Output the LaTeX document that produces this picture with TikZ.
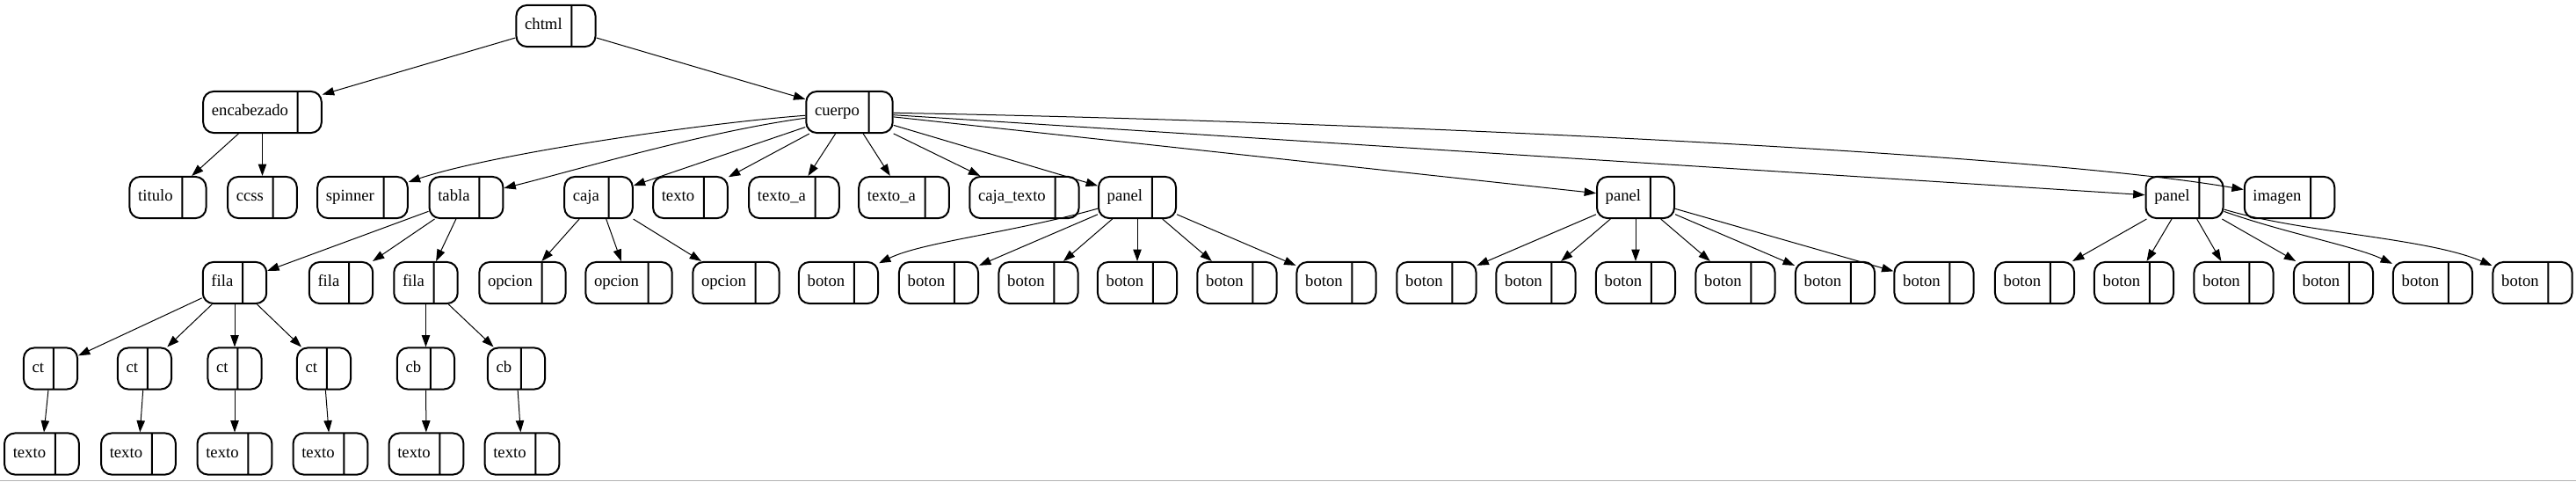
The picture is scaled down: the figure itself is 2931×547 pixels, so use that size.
\documentclass[tikz,border=0pt]{standalone}
\usepackage{fontspec}
\setmainfont{Liberation Serif}
\usepackage{tikz}
\usetikzlibrary{shapes.multipart,arrows.meta}
\newcommand\hueco{\nodepart{two}\hspace*{5pt}}

\begin{document}
\begin{tikzpicture}[x=0.75pt,y=-0.75pt]
            \useasboundingbox (0,0) rectangle (2931,547);
            \tikzset{Campo/.style={rectangle split,rectangle split horizontal,rectangle split parts=2,
                draw,line width=1.5pt,rounded corners=9pt,inner xsep=7.3pt,inner ysep=10.9pt,
                text height=10pt,text depth=3.5pt,font=\fontsize{14}{17}\selectfont}};
            \tikzset{Arista/.style={line width=0.75pt,-{Triangle[length=10pt,width=7pt]}}};

            \node[Campo] (chtml) at (632.5,29.5) {chtml\hueco};

            \node[Campo] (encabezado) at (298.5,127.5) {encabezado\hueco};
            \node[Campo] (cuerpo) at (966.5,127.5) {cuerpo\hueco};

            \node[Campo] (titulo) at (191,224.5) {titulo\hueco};
            \node[Campo] (ccss) at (298.5,224.5) {ccss\hueco};
            \node[Campo] (spinner) at (412.5,224.5) {spinner\hueco};
            \node[Campo] (tabla) at (530.5,224.5) {tabla\hueco};
            \node[Campo] (caja) at (681,224.5) {caja\hueco};
            \node[Campo] (texto) at (785.5,224.5) {texto\hueco};
            \node[Campo] (texto_a_1) at (903.5,224.5) {texto\_a\hueco};
            \node[Campo] (texto_a_2) at (1028.5,224.5) {texto\_a\hueco};
            \node[Campo] (caja_texto) at (1165.5,224.5) {caja\_texto\hueco};
            \node[Campo] (panel_1) at (1294,224.5) {panel\hueco};
            \node[Campo] (panel_2) at (1861,224.5) {panel\hueco};
            \node[Campo] (panel_3) at (2485.5,224.5) {panel\hueco};
            \node[Campo] (imagen) at (2605,224.5) {imagen\hueco};

            \node[Campo] (fila_1) at (267,321.5) {fila\hueco};
            \node[Campo] (fila_2) at (388,321.5) {fila\hueco};
            \node[Campo] (fila_3) at (484.5,321.5) {fila\hueco};
            \node[Campo] (opcion_1) at (594.5,321.5) {opcion\hueco};
            \node[Campo] (opcion_2) at (715.5,321.5) {opcion\hueco};
            \node[Campo] (opcion_3) at (837.5,321.5) {opcion\hueco};
            \node[Campo] (boton_1_1) at (954,321.5) {boton\hueco};
            \node[Campo] (boton_1_2) at (1068,321.5) {boton\hueco};
            \node[Campo] (boton_1_3) at (1181.5,321.5) {boton\hueco};
            \node[Campo] (boton_1_4) at (1294,321.5) {boton\hueco};
            \node[Campo] (boton_1_5) at (1407.5,321.5) {boton\hueco};
            \node[Campo] (boton_1_6) at (1520.5,321.5) {boton\hueco};
            \node[Campo] (boton_2_1) at (1634.5,321.5) {boton\hueco};
            \node[Campo] (boton_2_2) at (1747.5,321.5) {boton\hueco};
            \node[Campo] (boton_2_3) at (1861,321.5) {boton\hueco};
            \node[Campo] (boton_2_4) at (1974.5,321.5) {boton\hueco};
            \node[Campo] (boton_2_5) at (2088,321.5) {boton\hueco};
            \node[Campo] (boton_2_6) at (2200.5,321.5) {boton\hueco};
            \node[Campo] (boton_3_1) at (2315,321.5) {boton\hueco};
            \node[Campo] (boton_3_2) at (2428,321.5) {boton\hueco};
            \node[Campo] (boton_3_3) at (2541.5,321.5) {boton\hueco};
            \node[Campo] (boton_3_4) at (2655,321.5) {boton\hueco};
            \node[Campo] (boton_3_5) at (2768,321.5) {boton\hueco};
            \node[Campo] (boton_3_6) at (2881.5,321.5) {boton\hueco};

            \node[Campo] (ct_1) at (57.5,419) {ct\hueco};
            \node[Campo] (ct_2) at (164.5,419) {ct\hueco};
            \node[Campo] (ct_3) at (267,419) {ct\hueco};
            \node[Campo] (ct_4) at (368.5,419) {ct\hueco};
            \node[Campo] (cb_1) at (484.5,419) {cb\hueco};
            \node[Campo] (cb_2) at (587.5,419) {cb\hueco};

            \node[Campo] (texto_1) at (47.5,516) {texto\hueco};
            \node[Campo] (texto_2) at (157.5,516) {texto\hueco};
            \node[Campo] (texto_3) at (267,516) {texto\hueco};
            \node[Campo] (texto_4) at (376,516) {texto\hueco};
            \node[Campo] (texto_5) at (485,516) {texto\hueco};
            \node[Campo] (texto_6) at (594,516) {texto\hueco};

            \draw[Arista] (chtml) -- (encabezado);
            \draw[Arista] (chtml) -- (cuerpo);
            \draw[Arista] (encabezado) -- (titulo);
            \draw[Arista] (encabezado) -- (ccss);
            \draw[Arista] (cuerpo) .. controls (800,140) and (560,175) .. (spinner);
            \draw[Arista] (cuerpo) .. controls (800,150) and (650,195) .. (tabla);
            \draw[Arista] (cuerpo) -- (caja);
            \draw[Arista] (cuerpo) -- (texto);
            \draw[Arista] (cuerpo) -- (texto_a_1);
            \draw[Arista] (cuerpo) -- (texto_a_2);
            \draw[Arista] (cuerpo) -- (caja_texto);
            \draw[Arista] (cuerpo) -- (panel_1);
            \draw[Arista] (cuerpo) -- (panel_2);
            \draw[Arista] (cuerpo) -- (panel_3);
            \draw[Arista] (cuerpo) .. controls (1515,137) and (2300,172) .. (imagen);
            \draw[Arista] (tabla) -- (fila_1);
            \draw[Arista] (tabla) -- (fila_2);
            \draw[Arista] (tabla) -- (fila_3);
            \draw[Arista] (caja) -- (opcion_1);
            \draw[Arista] (caja) -- (opcion_2);
            \draw[Arista] (caja) -- (opcion_3);
            \draw[Arista] (panel_1) .. controls (1150,265) and (1050,275) .. (boton_1_1);
            \draw[Arista] (panel_1) -- (boton_1_2);
            \draw[Arista] (panel_1) -- (boton_1_3);
            \draw[Arista] (panel_1) -- (boton_1_4);
            \draw[Arista] (panel_1) -- (boton_1_5);
            \draw[Arista] (panel_1) -- (boton_1_6);
            \draw[Arista] (panel_2) -- (boton_2_1);
            \draw[Arista] (panel_2) -- (boton_2_2);
            \draw[Arista] (panel_2) -- (boton_2_3);
            \draw[Arista] (panel_2) -- (boton_2_4);
            \draw[Arista] (panel_2) -- (boton_2_5);
            \draw[Arista] (panel_2) -- (boton_2_6);
            \draw[Arista] (panel_3) -- (boton_3_1);
            \draw[Arista] (panel_3) -- (boton_3_2);
            \draw[Arista] (panel_3) -- (boton_3_3);
            \draw[Arista] (panel_3) -- (boton_3_4);
            \draw[Arista] (panel_3) .. controls (2600,265) and (2680,280) .. (boton_3_5);
            \draw[Arista] (panel_3) .. controls (2620,265) and (2760,270) .. (boton_3_6);
            \draw[Arista] (fila_1) -- (ct_1);
            \draw[Arista] (fila_1) -- (ct_2);
            \draw[Arista] (fila_1) -- (ct_3);
            \draw[Arista] (fila_1) -- (ct_4);
            \draw[Arista] (fila_3) -- (cb_1);
            \draw[Arista] (fila_3) -- (cb_2);
            \draw[Arista] (ct_1) -- (texto_1);
            \draw[Arista] (ct_2) -- (texto_2);
            \draw[Arista] (ct_3) -- (texto_3);
            \draw[Arista] (ct_4) -- (texto_4);
            \draw[Arista] (cb_1) -- (texto_5);
            \draw[Arista] (cb_2) -- (texto_6);

            \draw[black!30,line width=0.75pt] (0,546.5) -- (2931,546.5);
          \end{tikzpicture}
\end{document}
